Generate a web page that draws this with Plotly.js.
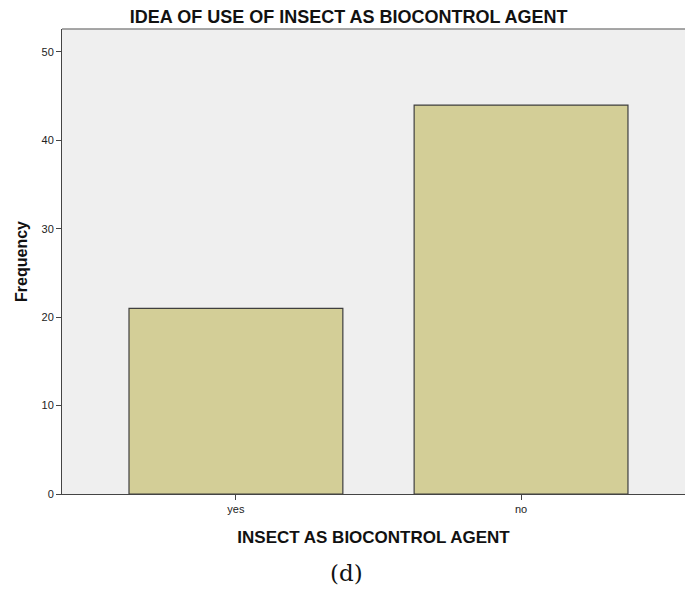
<!DOCTYPE html>
<html><head><meta charset="utf-8">
<script src="https://cdn.plot.ly/plotly-3.0.1.min.js"></script>
<style>html,body{margin:0;padding:0;background:#fff}#c{width:685px;height:590px}</style>
</head><body><div id="c"></div>
<script>
const categories = ["yes", "no"];
const frequency = [21, 44];
const yTicks = [0, 10, 20, 30, 40, 50];

const trace = {
  type: "bar", x: categories, y: frequency, width: 0.75,
  marker: {color: "#d3ce97", line: {color: "#3f3f3f", width: 1.2}},
  hoverinfo: "none"
};
const layout = {
  width: 685, height: 590,
  margin: {l: 62, r: 0, t: 29, b: 96},
  paper_bgcolor: "#ffffff", plot_bgcolor: "#efefef",
  font: {family: "Liberation Sans, Arial, sans-serif", color: "#222"},
  showlegend: false,
  bargap: 0.25,
  title: {text: "<b>IDEA OF USE OF INSECT AS BIOCONTROL AGENT</b>", x: 0.509, xref: "container", xanchor: "center", yref: "container", y: 0.971, yanchor: "middle", font: {size: 18, color: "#111"}},
  xaxis: {
    type: "category", range: [-0.61, 1.575],
    showline: true, linecolor: "#444", linewidth: 1,
    ticks: "outside", ticklen: 5, tickcolor: "#444",
    tickfont: {size: 11, color: "#222"},
    showgrid: false, zeroline: false,
    title: {text: "<b>INSECT AS BIOCONTROL AGENT</b>", font: {size: 17, color: "#111"}, standoff: 16}
  },
  yaxis: {
    range: [0, 52.6], tickvals: yTicks,
    showline: true, linecolor: "#444", linewidth: 1,
    ticks: "outside", ticklen: 5, tickcolor: "#444",
    tickfont: {size: 11, color: "#222"},
    showgrid: false, zeroline: false,
    title: {text: "<b>Frequency</b>", font: {size: 16, color: "#111"}, standoff: 9}
  },
  shapes: [{type: "line", xref: "paper", yref: "paper", x0: 0, x1: 1, y0: 1, y1: 1, line: {color: "#8a8a8a", width: 1.5}}],
  annotations: [{text: "(d)", xref: "paper", yref: "paper", x: 0.457, y: -0.17, yanchor: "middle", showarrow: false, font: {family: "DejaVu Serif, Liberation Serif, serif", size: 23, color: "#111"}}]
};
Plotly.newPlot("c", [trace], layout, {staticPlot: true, displayModeBar: false});
</script></body></html>
